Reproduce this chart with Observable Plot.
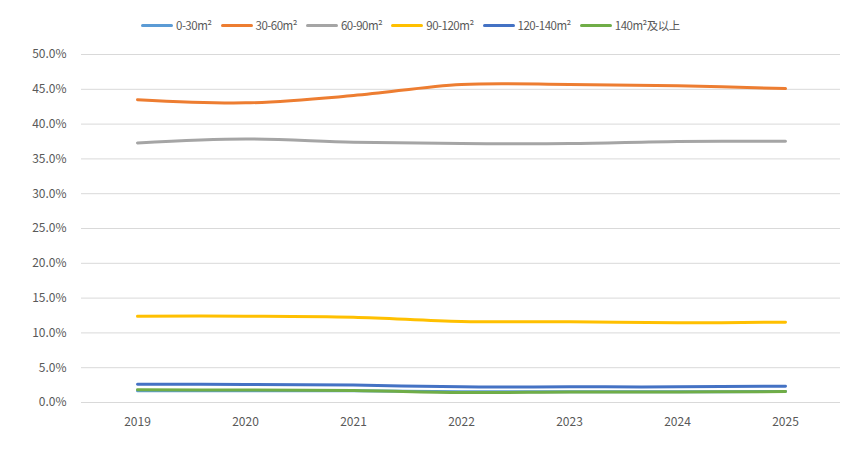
<!DOCTYPE html>
<html>
<head>
<meta charset="utf-8">
<script src="https://cdn.jsdelivr.net/npm/d3@7"></script>
<script src="https://cdn.jsdelivr.net/npm/@observablehq/plot@0.6"></script>
<style>
  body { margin: 0; background: #fff; font-family: "Noto Sans CJK SC", "Noto Sans", sans-serif; }
  #legend { height: 40px; display: flex; align-items: center; padding-left: 141px; padding-top: 10px; box-sizing: border-box; font-size: 11.5px; letter-spacing: -0.5px; color: #595959; }
  .item { display: flex; align-items: center; margin-right: 9px; }
  .swatch { width: 32px; height: 3px; border-radius: 2px; margin-right: 3px; }
</style>
</head>
<body>
<div id="legend"></div>
<div id="chart"></div>
<script>
const years = ["2019", "2020", "2021", "2022", "2023", "2024", "2025"];
const seriesNames = ["0-30m²", "30-60m²", "60-90m²", "90-120m²", "120-140m²", "140m²及以上"];
const colors = ["#5B9BD5", "#ED7D31", "#A5A5A5", "#FFC000", "#4472C4", "#70AD47"];
const s0_30 = [1.70, 1.70, 1.68, 1.55, 1.55, 1.55, 1.58];
const s30_60 = [43.5, 43.05, 44.1, 45.7, 45.7, 45.5, 45.1];
const s60_90 = [37.3, 37.85, 37.4, 37.2, 37.2, 37.5, 37.55];
const s90_120 = [12.4, 12.4, 12.25, 11.64, 11.6, 11.45, 11.54];
const s120_140 = [2.63, 2.6, 2.5, 2.25, 2.25, 2.25, 2.35];
const s140plus = [1.82, 1.8, 1.72, 1.44, 1.5, 1.5, 1.58];
const yTicks = [0, 5, 10, 15, 20, 25, 30, 35, 40, 45, 50];

const allSeries = [s0_30, s30_60, s60_90, s90_120, s120_140, s140plus];
const data = [];
allSeries.forEach((vals, i) => vals.forEach((v, j) => data.push({series: seriesNames[i], year: years[j], value: v})));

const legend = document.getElementById("legend");
seriesNames.forEach((n, i) => {
  const it = document.createElement("div");
  it.className = "item";
  it.innerHTML = `<div class="swatch" style="background:${colors[i]}"></div><span>${n}</span>`;
  legend.appendChild(it);
});

const chart = Plot.plot({
  width: 868,
  height: 412,
  marginTop: 14,
  marginBottom: 50,
  marginLeft: 81,
  marginRight: 28,
  style: { fontFamily: '"Noto Sans CJK SC", "Noto Sans", sans-serif', fontSize: "12px", color: "#595959" },
  x: { type: "point", domain: years, padding: 0.5, label: null },
  y: { domain: [0, 50], ticks: yTicks, label: null },
  color: { domain: seriesNames, range: colors },
  marks: [
    Plot.gridY(yTicks, { stroke: "#d9d9d9", strokeOpacity: 1, strokeWidth: 1 }),
    Plot.axisY(yTicks, { tickSize: 0, tickPadding: 15, tickFormat: d => d.toFixed(1) + "%", fill: "#595959", fontSize: 12 }),
    Plot.axisX({ tickSize: 0, tickPadding: 15, fill: "#595959", fontSize: 12 }),
    Plot.line(data, { x: "year", y: "value", z: "series", stroke: "series", strokeWidth: 3, curve: "catmull-rom", strokeLinecap: "round", strokeLinejoin: "round" })
  ]
});
document.getElementById("chart").appendChild(chart);
</script>
</body>
</html>
